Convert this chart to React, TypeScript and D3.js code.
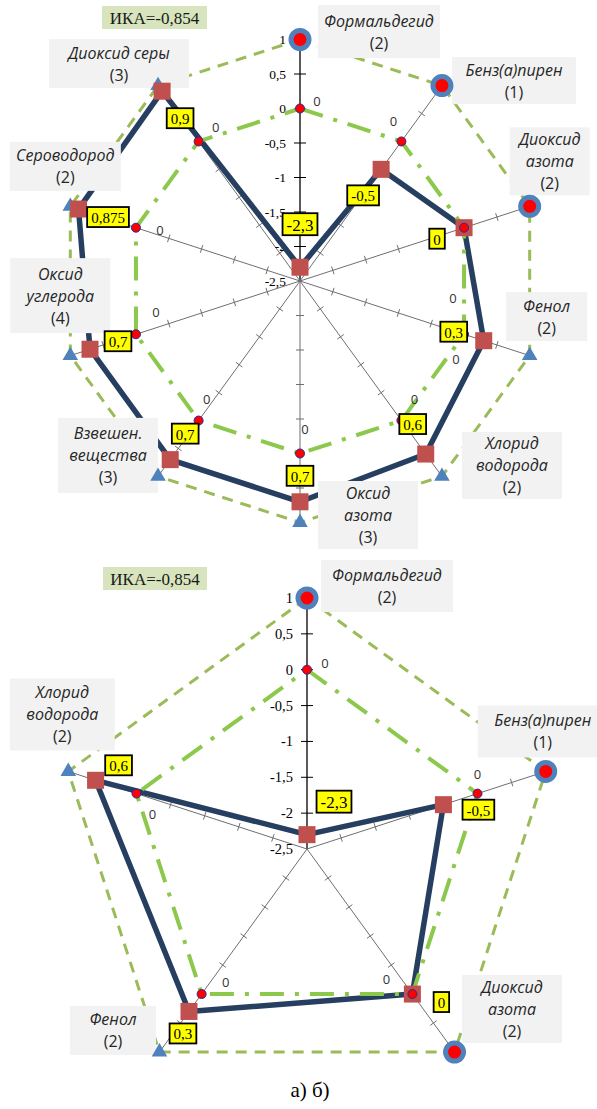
import React from "react";
import * as d3 from "d3";

// ---------------- DATA ----------------
const categoriesA = [
  "Формальдегид",
  "Бенз(а)пирен",
  "Диоксид|азота",
  "Фенол",
  "Хлорид|водорода",
  "Оксид|азота",
  "Взвешен.|вещества",
  "Оксид|углерода",
  "Сероводород",
  "Диоксид серы",
];
const hazardClassA = [2, 1, 2, 2, 2, 3, 3, 4, 2, 3];
const valuesA = [-2.3, -0.5, 0, 0.3, 0.6, 0.7, 0.7, 0.7, 0.875, 0.9];
const baselineA = [0, 0, 0, 0, 0, 0, 0, 0, 0, 0];
const limitA = [1, 1, 1, 1, 1, 1, 1, 1, 1, 1];
const limitMarkerA = ["circle", "circle", "circle", "triangle", "triangle", "triangle", "triangle", "triangle", "triangle", "triangle"];
const ikaA = -0.854;

const categoriesB = ["Формальдегид", "Бенз(а)пирен", "Диоксид|азота", "Фенол", "Хлорид|водорода"];
const hazardClassB = [2, 1, 2, 2, 2];
const valuesB = [-2.3, -0.5, 0, 0.3, 0.6];
const baselineB = [0, 0, 0, 0, 0];
const limitB = [1, 1, 1, 1, 1];
const limitMarkerB = ["circle", "circle", "circle", "triangle", "triangle"];
const ikaB = -0.854;

const axisTicks = [1, 0.5, 0, -0.5, -1, -1.5, -2, -2.5];
const axisDomain = [-2.5, 1];
const captionText = "а) б)";

// ---------------- LAYOUT / STYLE ----------------
const layoutA = {
  cx: 300,
  cy: 281,
  R: 241.5,
  tickFont: 13.5,
  ikaBox: { x: 102, y: 6, w: 105, h: 23 },
  boxes: [
    [79, -8, 122, 53],
    [72, -5, 124, 47],
    [20, -45, 80, 68],
    [17, -39, 81, 49],
    [70, -11, 100, 67],
    [68, -7.5, 100, 68],
    [-50, -21, 100, 75],
    [-10, -60, 100, 75],
    [-5, -40, 111, 49],
    [-39, -22, 140, 49],
  ],
  valueLabelOffsets: [
    [0, -43], [-18, 26], [-27, 11], [-30, -9], [-13, -30],
    [0, -26], [15, -26], [28, -8], [29.5, 8], [18, 27],
  ],
  zeroLabelOffsets: [
    [17, -8], [-8, -20], [-11, 70], [-8, 25], [13, -22],
    [5, -25], [8, -22], [20, -22], [24, 2], [17, -14],
  ],
};

const layoutB = {
  cx: 307,
  cy: 849,
  R: 251,
  tickFont: 14.5,
  ikaBox: { x: 103, y: 567, w: 104, h: 23 },
  boxes: [
    [80, -12, 132, 52],
    [-3, -40, 130, 52],
    [57.5, -43, 100, 68],
    [-46.5, -21.6, 86, 49],
    [-6, -57, 105, 72],
  ],
  valueLabelOffsets: [[27, -33], [35, 5], [29, 8], [-6, 22], [23, -15]],
  zeroLabelOffsets: [[18, -7], [0, -20], [-26, -15], [24, -12], [16, 20]],
};

const GREEN = "#9bbb59";
const LIME = "#8cc84b";
const NAVY = "#263f61";
const SQUARE = "#c0504d";
const BLUE = "#4f81bd";
const RED = "#ff0000";
const SERIF = "'Liberation Serif', 'Times New Roman', serif";
const SANS = "'Open Sans', 'Noto Sans', sans-serif";

const fmt = (v: number) => String(v).replace(".", ",");
const serifWidth = (s: string, fs: number) =>
  s.split("").reduce((a, c) => a + (c === "," || c === "." ? 0.25 : c === "-" ? 0.333 : 0.5), 0) * fs;

type Props = {
  cats: string[];
  classes: number[];
  values: number[];
  baseline: number[];
  limit: number[];
  markers: string[];
  ika: number;
  L: any;
};

function Radar({ cats, classes, values, baseline, limit, markers, ika, L }: Props) {
  const n = cats.length;
  const r = d3.scaleLinear().domain(axisDomain).range([0, L.R]);
  const ang = (i: number) => (i * 2 * Math.PI) / n;
  const pt = (i: number, v: number): [number, number] => {
    const [x, y] = d3.pointRadial(ang(i), r(v));
    return [L.cx + x, L.cy + y];
  };
  const radial = d3
    .lineRadial<number>()
    .angle((_, i) => ang(i))
    .radius((v) => r(v))
    .curve(d3.curveLinearClosed);
  const tri = d3.symbol(d3.symbolTriangle, 105)() as string;

  const spokes = cats.map((_, i) => {
    const [x2, y2] = pt(i, axisDomain[1]);
    const a = ang(i);
    const wx = Math.cos(a);
    const wy = Math.sin(a);
    const len = i === 0 ? 6 : 4;
    const ticks = axisTicks
      .filter((t) => t > axisDomain[0])
      .map((t) => {
        const [px, py] = pt(i, t);
        return (
          <line
            key={t}
            x1={px - wx * len}
            y1={py - wy * len}
            x2={px + wx * len}
            y2={py + wy * len}
            stroke={i === 0 ? "#000" : "#6f6f6f"}
            strokeWidth={1}
          />
        );
      });
    return (
      <g key={"s" + i}>
        <line x1={L.cx} y1={L.cy} x2={x2} y2={y2} stroke={i === 0 ? "#000" : "#6f6f6f"} strokeWidth={i === 0 ? 1.3 : 1} />
        {ticks}
      </g>
    );
  });

  const tickLabels = axisTicks.map((t) => {
    const [, py] = pt(0, t);
    return (
      <text
        key={"tl" + t}
        x={L.cx - 14}
        y={py}
        textAnchor="end"
        dominantBaseline="central"
        fontFamily={SERIF}
        fontSize={L.tickFont}
        fill="#000"
      >
        {fmt(t)}
      </text>
    );
  });

  const boxes = cats.map((c, i) => {
    const [ox, oy] = pt(i, limit[i]);
    const [dx, dy, w, h] = L.boxes[i];
    const bx = ox + dx;
    const by = oy + dy;
    const lines = c.split("|").map((s) => ({ s, italic: true }));
    lines.push({ s: `(${classes[i]})`, italic: false });
    const lh = 22;
    const y0 = by - ((lines.length - 1) * lh) / 2;
    return (
      <g key={"b" + i}>
        <rect x={bx - w / 2} y={by - h / 2} width={w} height={h} fill="#f2f2f2" />
        {lines.map((ln, k) => (
          <text
            key={k}
            x={bx}
            y={y0 + k * lh}
            textAnchor="middle"
            dominantBaseline="central"
            fontFamily={SANS}
            fontStyle={ln.italic ? "italic" : "normal"}
            fontSize={16}
            fill="#262626"
          >
            {ln.s}
          </text>
        ))}
      </g>
    );
  });

  const limitMarks = limit.map((v, i) => {
    const [x, y] = pt(i, v);
    return markers[i] === "circle" ? (
      <circle key={"lm" + i} cx={x} cy={y} r={9} fill={RED} stroke={BLUE} strokeWidth={5} />
    ) : (
      <path key={"lm" + i} d={tri} transform={`translate(${x},${y})`} fill={BLUE} />
    );
  });

  const squares = values.map((v, i) => {
    const [x, y] = pt(i, v);
    return <rect key={"sq" + i} x={x - 8.5} y={y - 8.5} width={17} height={17} fill={SQUARE} />;
  });

  const dots = baseline.map((v, i) => {
    const [x, y] = pt(i, v);
    return <circle key={"d" + i} cx={x} cy={y} r={4.5} fill={RED} stroke="#2a2a9a" strokeWidth={1} />;
  });

  const zeroLabels = baseline.map((v, i) => {
    const [x, y] = pt(i, v);
    const [dx, dy] = L.zeroLabelOffsets[i];
    return (
      <text
        key={"z" + i}
        x={x + dx}
        y={y + dy}
        textAnchor="middle"
        dominantBaseline="central"
        fontFamily={SANS}
        fontSize={13}
        fill="#333"
      >
        {fmt(v)}
      </text>
    );
  });

  const valueLabels = values.map((v, i) => {
    const [x, y] = pt(i, v);
    const [dx, dy] = L.valueLabelOffsets[i];
    const fs = i === 0 ? 17 : 15;
    const s = fmt(v);
    const w = serifWidth(s, fs) + 8;
    const h = fs + 5;
    const lx = x + dx;
    const ly = y + dy;
    return (
      <g key={"vl" + i}>
        <rect x={lx - w / 2} y={ly - h / 2} width={w} height={h} fill="#ffff00" stroke="#000" strokeWidth={1.8} />
        <text x={lx} y={ly + 1} textAnchor="middle" dominantBaseline="central" fontFamily={SERIF} fontSize={fs} fill="#000">
          {s}
        </text>
      </g>
    );
  });

  const ib = L.ikaBox;
  return (
    <g>
      {spokes}
      {tickLabels}
      <path
        d={radial(limit) as string}
        transform={`translate(${L.cx},${L.cy})`}
        fill="none"
        stroke={GREEN}
        strokeWidth={3}
        strokeDasharray="11,8"
      />
      <path d={radial(values) as string} transform={`translate(${L.cx},${L.cy})`} fill="none" stroke={NAVY} strokeWidth={5.5} strokeLinejoin="round" />
      <path
        d={radial(baseline) as string}
        transform={`translate(${L.cx},${L.cy})`}
        fill="none"
        stroke={LIME}
        strokeWidth={4}
        strokeDasharray="24,11,4,11"
      />
      {boxes}
      {limitMarks}
      {squares}
      {dots}
      {zeroLabels}
      {valueLabels}
      <rect x={ib.x} y={ib.y} width={ib.w} height={ib.h} fill="#d7e4bd" />
      <text
        x={ib.x + ib.w / 2}
        y={ib.y + ib.h / 2 + 1}
        textAnchor="middle"
        dominantBaseline="central"
        fontFamily={SERIF}
        fontSize={17}
        fill="#1a1a1a"
      >
        {"ИКА=" + fmt(ika)}
      </text>
    </g>
  );
}

export default function App() {
  return (
    <svg
      width={597}
      height={1109}
      viewBox="0 0 597 1109"
      style={{ position: "absolute", left: 0, top: 0, background: "#fff" }}
    >
      <rect width={597} height={1109} fill="#fff" />
      <Radar
        cats={categoriesA}
        classes={hazardClassA}
        values={valuesA}
        baseline={baselineA}
        limit={limitA}
        markers={limitMarkerA}
        ika={ikaA}
        L={layoutA}
      />
      <Radar
        cats={categoriesB}
        classes={hazardClassB}
        values={valuesB}
        baseline={baselineB}
        limit={limitB}
        markers={limitMarkerB}
        ika={ikaB}
        L={layoutB}
      />
      <text x={310} y={1097} textAnchor="middle" fontFamily={SERIF} fontSize={21} fill="#000">
        {captionText}
      </text>
    </svg>
  );
}
